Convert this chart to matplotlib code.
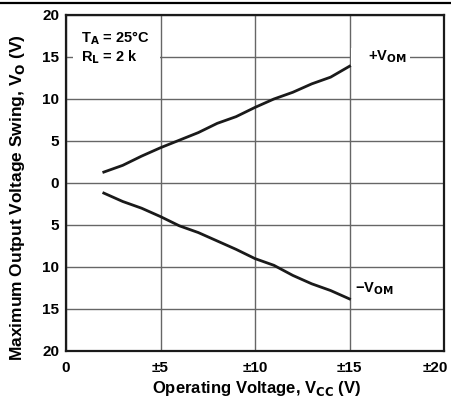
import numpy as np
import matplotlib
matplotlib.use("Agg")
import matplotlib.pyplot as plt
from matplotlib.patches import Rectangle
from matplotlib.ticker import FuncFormatter
from matplotlib.transforms import ScaledTranslation

plt.rcParams['font.family'] = ['Liberation Sans', 'DejaVu Sans']
plt.rcParams['font.weight'] = 'bold'

# supply voltage (+/- Vcc)
vcc = [2, 3, 4, 5, 6, 7, 8, 9, 10, 11, 12, 13, 14, 15]
# positive swing +VOM
vom_pos = [1.3, 2.1, 3.2, 4.2, 5.1, 6.0, 7.1, 7.9, 9.0, 10.0, 10.8, 11.8, 12.6, 13.9]
# negative swing -VOM (plotted below zero)
vom_neg = [-1.2, -2.2, -3.0, -4.0, -5.1, -5.9, -6.9, -7.9, -9.0, -9.8, -11.0, -12.0, -12.8, -13.8]

x_ticks = [0, 5, 10, 15, 20]
x_tick_labels = ['0', '±5', '±10', '±15', '±20']
y_ticks = [-20, -15, -10, -5, 0, 5, 10, 15, 20]

fig = plt.figure(figsize=(4.51, 4.04), dpi=100)
ax = fig.add_axes((66 / 451, 1 - 351 / 404, 378 / 451, 336 / 404))

# rule across the top of the page
fig.add_artist(plt.Line2D([0, 1], [1 - 3 / 404, 1 - 3 / 404], color='black', lw=1.6))

ax.plot(vcc, vom_pos, color='#1a1a1a', lw=2.0, zorder=3)
ax.plot(vcc, vom_neg, color='#1a1a1a', lw=2.0, zorder=3)

ax.set_xlim(0, 20)
ax.set_ylim(-20, 20)
ax.set_xticks(x_ticks)
ax.set_xticklabels(x_tick_labels)
ax.set_yticks(y_ticks)
ax.yaxis.set_major_formatter(FuncFormatter(lambda v, p: f'{abs(int(v))}'))

ax.grid(True, color='#666666', lw=1.0)
ax.set_axisbelow(True)
for s in ax.spines.values():
    s.set_linewidth(1.6)
    s.set_color('#1a1a1a')

ax.tick_params(axis='y', length=0, labelsize=11, pad=5)
ax.tick_params(axis='x', length=0, labelsize=11, pad=7)

# last x label sits a little left so it stays inside the page
last = ax.get_xticklabels()[-1]
last.set_transform(last.get_transform() + ScaledTranslation(-6 / 72, 0, fig.dpi_scale_trans))

fig.text(257 / 451, 1 - 389 / 404, 'Operating Voltage, V$_{\\mathbf{CC}}$ (V)',
         fontsize=12, fontweight='bold', ha='center', va='center')
fig.text(18 / 451, 1 - 198 / 404, 'Maximum Output Voltage Swing, V$_{\\mathbf{O}}$ (V)',
         fontsize=12.5, fontweight='bold', ha='center', va='center', rotation=90)

# white blanks behind the labels (hide the 15 V grid line there)
ax.add_patch(Rectangle((0.35, 13.6), 4.6, 6.2, facecolor='white', edgecolor='none', zorder=1))
ax.add_patch(Rectangle((15.1, 13.9), 3.1, 2.2, facecolor='white', edgecolor='none', zorder=1))

ax.text(0.8, 17.2, 'T$_{\\mathbf{A}}$ = 25°C', fontsize=10.5, fontweight='bold', va='center')
ax.text(0.8, 15.0, 'R$_{\\mathbf{L}}$ = 2 k', fontsize=10.5, fontweight='bold', va='center')
ax.text(16.0, 15.0, '+V$_{\\mathbf{OM}}$', fontsize=10.5, fontweight='bold', va='center')
ax.text(15.3, -12.6, '−V$_{\\mathbf{OM}}$', fontsize=10.5, fontweight='bold', va='center')

fig.savefig('out.png', dpi=100)
